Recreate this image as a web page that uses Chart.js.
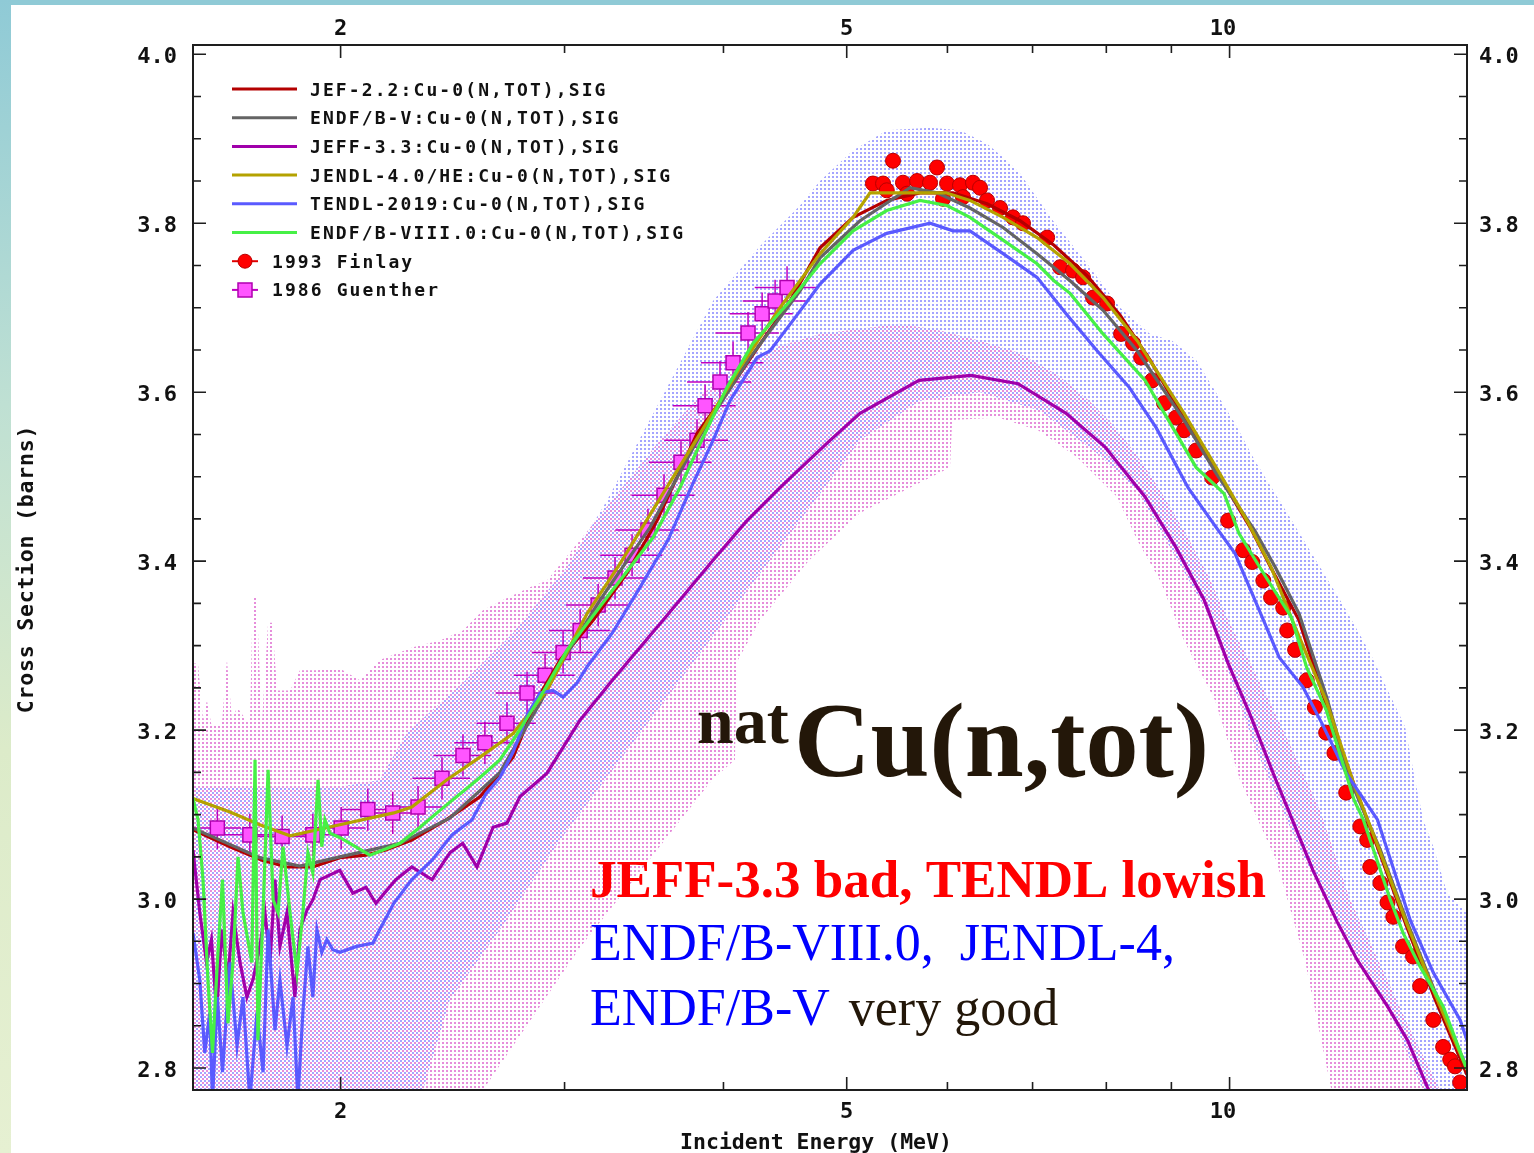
<!DOCTYPE html>
<html lang="en">
<head>
<meta charset="utf-8">
<title>natCu(n,tot)</title>
<script src="https://cdn.jsdelivr.net/npm/chart.js@4/dist/chart.umd.min.js"></script>
<style>
  html, body { margin: 0; padding: 0; }
  body { width: 1534px; height: 1153px; position: relative; overflow: hidden; background: #fff; }
  .edge-top { position: absolute; left: 0; top: 0; width: 1534px; height: 5px; background: #8fcad6; }
  .edge-left { position: absolute; left: 0; top: 0; width: 11px; height: 1153px;
    background: linear-gradient(to bottom, #8fcad6 0%, #bfe0d3 35%, #dcebc9 65%, #e6f0d2 100%); }
  #chartBox { position: absolute; left: 0; top: 0; width: 1534px; height: 1153px; }
</style>
</head>
<body>
<div class="edge-top"></div>
<div class="edge-left"></div>
<div id="chartBox"><canvas id="xsChart" width="1534" height="1153"></canvas></div>
<script>
// axis limits: incident energy (MeV, log) and cross section (barns)
const energyRange = [1.531, 15.37];
const sigmaRange = [2.774, 4.011];

const energyMajorTicks = [2, 5, 10];
const energyMinorTicks = [3, 4, 6, 7, 8, 9];
const sigmaMajorTicks = [2.8, 3.0, 3.2, 3.4, 3.6, 3.8, 4.0];
const sigmaMinorTicks = [2.85, 2.9, 2.95, 3.05, 3.1, 3.15, 3.25, 3.3, 3.35, 3.45, 3.5, 3.55,
  3.65, 3.7, 3.75, 3.85, 3.9, 3.95];

// evaluated libraries, [E (MeV), sigma (b)]
const jef22 = [[1.531,3.082],[1.637,3.062],[1.735,3.046],[1.815,3.038],[1.902,3.038],[1.997,3.049],
  [2.094,3.052],[2.170,3.058],[2.275,3.070],[2.423,3.094],[2.574,3.121],[2.669,3.149],[2.733,3.168],
  [2.851,3.235],[2.976,3.283],[3.159,3.330],[3.360,3.386],[3.547,3.448],[3.813,3.551],[4.070,3.610],
  [4.329,3.669],[4.512,3.708],[4.764,3.771],[5.058,3.807],[5.376,3.827],[5.709,3.836],[6.061,3.836],
  [6.446,3.823],[6.843,3.803],[7.277,3.774],[7.726,3.738],[8.202,3.691],[8.660,3.638],[9.209,3.569],
  [9.760,3.507],[10.38,3.440],[10.78,3.392],[11.34,3.330],[11.91,3.230],[12.53,3.135],[13.14,3.052],
  [13.79,2.966],[14.51,2.881],[15.37,2.792]];

const endfb5 = [[1.531,3.084],[1.728,3.049],[1.858,3.039],[1.997,3.050],[2.227,3.066],[2.438,3.096],
  [2.669,3.150],[2.870,3.232],[2.976,3.277],[3.199,3.354],[3.502,3.440],[3.834,3.549],[4.197,3.641],
  [4.595,3.720],[4.764,3.759],[5.122,3.803],[5.607,3.842],[5.888,3.836],[6.250,3.818],[6.636,3.795],
  [7.057,3.764],[7.492,3.732],[7.953,3.697],[8.459,3.649],[9.209,3.567],[9.760,3.504],[10.47,3.436],
  [10.86,3.393],[11.34,3.338],[11.91,3.241],[12.44,3.141],[13.14,3.058],[13.79,2.973],[14.64,2.875],
  [15.37,2.800]];

const jeff33 = [[1.531,3.058],[1.550,2.984],[1.569,2.925],[1.583,2.952],[1.598,2.866],[1.613,2.964],
  [1.631,2.905],[1.646,2.984],[1.667,2.925],[1.688,2.884],[1.707,2.905],[1.728,2.944],[1.744,2.984],
  [1.760,2.925],[1.776,3.023],[1.792,2.944],[1.815,2.984],[1.841,2.884],[1.858,2.964],[1.882,2.987],
  [1.902,2.999],[1.927,3.023],[1.997,3.034],[2.045,3.007],[2.094,3.014],[2.132,2.995],[2.210,3.023],
  [2.275,3.038],[2.360,3.023],[2.438,3.055],[2.495,3.066],[2.560,3.038],[2.636,3.085],[2.703,3.090],
  [2.767,3.121],[2.906,3.149],[3.086,3.212],[3.271,3.259],[3.585,3.330],[3.925,3.401],[4.174,3.448],
  [4.431,3.487],[4.851,3.543],[5.122,3.575],[5.699,3.614],[6.262,3.620],[6.818,3.610],[7.438,3.575],
  [7.982,3.535],[8.582,3.476],[9.077,3.416],[9.550,3.354],[9.974,3.279],[10.40,3.215],[10.86,3.143],
  [11.16,3.100],[11.63,3.034],[12.15,2.973],[12.60,2.928],[13.31,2.873],[13.80,2.833],[14.30,2.778],
  [14.64,2.745]];

const jendl4 = [[1.531,3.119],[1.637,3.103],[1.728,3.088],[1.825,3.075],[1.997,3.088],[2.202,3.102],
  [2.275,3.109],[2.423,3.141],[2.574,3.168],[2.733,3.196],[2.906,3.247],[3.125,3.338],[3.317,3.397],
  [3.585,3.480],[3.834,3.551],[4.122,3.629],[4.431,3.700],[4.764,3.764],[5.058,3.807],[5.215,3.836],
  [5.984,3.836],[6.250,3.827],[6.636,3.807],[7.057,3.783],[7.492,3.752],[7.953,3.712],[8.459,3.661],
  [9.209,3.575],[9.760,3.511],[10.32,3.448],[10.78,3.393],[11.26,3.322],[11.91,3.235],[12.53,3.135],
  [13.14,3.055],[13.79,2.970],[14.51,2.887],[15.37,2.798]];

const tendl2019 = [[1.531,2.960],[1.550,2.904],[1.564,2.818],[1.578,2.865],[1.586,2.762],[1.600,2.884],
  [1.615,2.795],[1.637,2.925],[1.658,2.826],[1.676,2.884],[1.697,2.762],[1.719,2.866],[1.738,2.795],
  [1.754,2.964],[1.776,2.845],[1.792,2.904],[1.815,2.826],[1.835,2.884],[1.851,2.762],[1.868,2.866],
  [1.885,2.944],[1.902,2.884],[1.916,2.964],[1.933,2.937],[1.951,2.952],[1.972,2.940],[1.997,2.937],
  [2.059,2.944],[2.121,2.948],[2.147,2.964],[2.202,2.995],[2.275,3.023],[2.360,3.046],[2.447,3.076],
  [2.537,3.094],[2.603,3.125],[2.669,3.144],[2.733,3.174],[2.804,3.218],[2.870,3.244],[2.938,3.247],
  [2.992,3.239],[3.069,3.256],[3.125,3.275],[3.271,3.315],[3.439,3.369],[3.618,3.425],[3.772,3.487],
  [3.925,3.543],[4.048,3.590],[4.251,3.641],[4.352,3.649],[4.537,3.685],[4.764,3.728],[5.058,3.768],
  [5.376,3.788],[5.814,3.800],[6.061,3.791],[6.250,3.791],[6.636,3.764],[7.057,3.736],[7.438,3.693],
  [7.867,3.649],[8.337,3.606],[8.755,3.558],[9.276,3.487],[9.760,3.440],[10.10,3.409],[10.47,3.354],
  [10.94,3.286],[11.42,3.251],[11.82,3.208],[12.35,3.149],[13.07,3.094],[13.87,2.975],[14.46,2.913],
  [15.18,2.857],[15.37,2.833]];

const endfb8 = [[1.531,3.119],[1.545,3.094],[1.559,3.023],[1.573,2.904],[1.586,2.818],[1.600,2.925],
  [1.615,3.023],[1.631,2.853],[1.646,2.925],[1.661,3.050],[1.676,2.984],[1.703,2.925],[1.713,3.165],
  [1.722,2.833],[1.738,2.984],[1.754,3.153],[1.770,2.999],[1.786,2.984],[1.802,3.062],[1.825,2.984],
  [1.848,2.913],[1.868,2.984],[1.885,3.055],[1.902,3.031],[1.920,3.141],[1.933,3.062],[1.944,3.094],
  [1.962,3.078],[1.997,3.073],[2.109,3.052],[2.227,3.066],[2.309,3.085],[2.394,3.105],[2.574,3.144],
  [2.669,3.165],[2.733,3.188],[2.818,3.220],[2.870,3.239],[3.014,3.295],[3.258,3.362],[3.521,3.428],
  [3.697,3.487],[3.834,3.539],[4.026,3.606],[4.220,3.658],[4.512,3.708],[4.764,3.752],[5.058,3.791],
  [5.376,3.815],[5.709,3.827],[5.995,3.821],[6.250,3.807],[6.636,3.780],[7.057,3.752],[7.277,3.732],
  [7.492,3.717],[7.953,3.669],[8.582,3.614],[9.412,3.511],[9.902,3.480],[10.17,3.433],[10.63,3.386],
  [11.18,3.334],[11.50,3.274],[11.91,3.224],[12.53,3.117],[12.74,3.094],[13.38,2.999],[13.69,2.960],
  [14.12,2.920],[14.72,2.873],[15.37,2.798]];

// uncertainty bands (upper / lower edges)
const tendlBandHigh = [[1.531,3.133],[1.997,3.133],[2.147,3.141],[2.255,3.197],[2.496,3.256],[2.733,3.315],
  [3.014,3.393],[3.240,3.472],[3.566,3.590],[3.925,3.708],[4.274,3.773],[4.595,3.821],[4.764,3.850],
  [5.057,3.886],[5.379,3.910],[5.814,3.913],[6.138,3.910],[6.446,3.894],[6.685,3.874],[6.843,3.859],
  [7.264,3.803],[7.727,3.752],[8.202,3.700],[8.660,3.669],[9.011,3.661],[9.412,3.638],[10.10,3.563],
  [10.47,3.519],[11.10,3.457],[11.65,3.405],[12.35,3.342],[12.90,3.291],[13.74,3.204],[13.99,3.141],
  [14.20,3.094],[14.46,3.062],[14.83,3.007],[15.37,2.984]];
const tendlBandLow = [[1.531,2.762],[2.309,2.762],[2.438,2.881],[2.669,2.964],[2.976,3.070],[3.317,3.165],
  [3.697,3.259],[4.122,3.354],[4.595,3.448],[5.122,3.543],[5.709,3.590],[6.365,3.600],[7.096,3.578],
  [7.910,3.525],[8.459,3.484],[9.619,3.338],[10.47,3.180],[11.36,3.058],[12.15,2.975],[13.31,2.873],
  [14.30,2.762],[15.37,2.762]];

const jeffBandHigh = [[1.531,3.279],[1.545,3.279],[1.559,3.212],[1.570,3.235],[1.583,3.206],[1.613,3.206],
  [1.628,3.283],[1.643,3.212],[1.658,3.227],[1.697,3.206],[1.706,3.357],[1.718,3.357],[1.734,3.206],
  [1.754,3.327],[1.767,3.327],[1.783,3.247],[1.825,3.247],[1.858,3.271],[1.916,3.271],[1.997,3.273],
  [2.071,3.259],[2.147,3.283],[2.280,3.298],[2.394,3.306],[2.496,3.318],[2.588,3.342],[2.683,3.354],
  [2.818,3.369],[2.906,3.377],[3.086,3.425],[3.317,3.484],[3.566,3.543],[3.834,3.596],[4.122,3.632],
  [4.431,3.655],[4.764,3.669],[5.122,3.675],[5.506,3.681],[5.920,3.673],[6.365,3.661],[6.818,3.647],
  [7.330,3.620],[7.754,3.590],[8.099,3.561],[8.459,3.525],[8.818,3.484],[9.209,3.436],[9.619,3.383],
  [9.974,3.330],[10.40,3.277],[10.78,3.230],[11.16,3.182],[11.78,3.105],[12.44,2.999],[13.14,2.922],
  [13.87,2.845],[14.64,2.774],[15.37,2.762]];
const jeffBandLow = [[1.531,2.762],[2.556,2.762],[3.086,2.943],[3.483,3.043],[3.918,3.141],[4.084,3.165],
  [4.099,3.281],[4.274,3.330],[4.671,3.401],[5.122,3.457],[6.028,3.511],[6.052,3.567],[6.576,3.570],
  [7.070,3.555],[7.588,3.523],[8.158,3.476],[8.459,3.425],[8.818,3.377],[9.209,3.306],[9.741,3.235],
  [10.19,3.141],[10.88,3.046],[11.46,2.928],[12.07,2.762],[15.37,2.762]];

// measurements
const finlay1993 = [[5.243,3.847],[5.340,3.847],[5.376,3.839],[5.437,3.874],[5.536,3.848],[5.577,3.835],
  [5.679,3.850],[5.814,3.848],[5.888,3.866],[5.952,3.829],[5.996,3.847],[6.138,3.845],[6.171,3.831],
  [6.284,3.848],[6.365,3.842],[6.446,3.827],[6.600,3.818],[6.756,3.807],[6.880,3.800],[7.187,3.783],
  [7.357,3.748],[7.532,3.744],[7.670,3.736],[7.810,3.712],[8.011,3.705],[8.217,3.669],[8.397,3.658],
  [8.520,3.641],[8.691,3.614],[8.882,3.587],[9.077,3.570],[9.210,3.555],[9.412,3.531],[9.689,3.499],
  [9.974,3.448],[10.25,3.413],[10.42,3.399],[10.63,3.377],[10.78,3.357],[11.02,3.345],[11.10,3.318],
  [11.26,3.295],[11.50,3.259],[11.67,3.227],[11.91,3.197],[12.09,3.173],[12.35,3.126],[12.67,3.086],
  [12.83,3.070],[12.90,3.038],[13.14,3.019],[13.31,2.996],[13.45,2.979],[13.69,2.944],[13.94,2.932],
  [14.12,2.897],[14.46,2.857],[14.72,2.825],[14.91,2.810],[15.04,2.802],[15.18,2.783]];

const guenther1986 = [[1.600,3.084],[1.697,3.076],[1.799,3.074],[1.902,3.076],[2.002,3.084],[2.101,3.106],
  [2.198,3.102],[2.301,3.109],[2.403,3.143],[2.496,3.170],[2.597,3.185],[2.703,3.208],[2.803,3.244],
  [2.896,3.265],[2.992,3.292],[3.086,3.318],[3.188,3.348],[3.287,3.380],[3.390,3.407],[3.489,3.437],
  [3.592,3.478],[3.704,3.517],[3.813,3.543],[3.869,3.584],[3.975,3.612],[4.070,3.635],[4.182,3.670],
  [4.290,3.693],[4.392,3.708],[4.488,3.724]];
const guentherEnergyErr = [0.07,0.075,0.08,0.085,0.09,0.10,0.105,0.115,0.125,0.13,0.14,0.145,0.155,0.16,
  0.165,0.17,0.18,0.185,0.19,0.20,0.205,0.21,0.22,0.22,0.23,0.23,0.24,0.245,0.25,0.255];
const guentherSigmaErr = [0.025,0.025,0.025,0.025,0.025,0.025,0.025,0.025,0.025,0.025,0.025,0.025,0.025,
  0.025,0.025,0.025,0.025,0.025,0.025,0.025,0.025,0.025,0.025,0.025,0.025,0.025,0.025,0.025,0.025,0.025];

const monoFamily = '"DejaVu Sans Mono", "Liberation Mono", monospace';
const serifFamily = '"Liberation Serif", "DejaVu Serif", serif';
const axisTickFont = { family: monoFamily, size: 22, weight: 'bold' };

const canvas = document.getElementById('xsChart');
const ctx0 = canvas.getContext('2d');

// stippled fill used for the uncertainty bands
function dotFill(color, dx, dy) {
  const tile = document.createElement('canvas');
  tile.width = 4; tile.height = 4;
  const g = tile.getContext('2d');
  g.fillStyle = color;
  g.fillRect(dx, dy, 2, 2);
  return ctx0.createPattern(tile, 'repeat');
}
const tendlDots = dotFill('rgba(105,105,255,0.6)', 0, 0);
const jeffDots = dotFill('rgba(210,50,190,0.55)', 2, 2);

const toPoints = pairs => pairs.map(([x, y]) => ({ x, y }));

function curve(label, color, pairs, order, legendRow) {
  return { label, data: toPoints(pairs), borderColor: color, backgroundColor: color,
    borderWidth: 3.2, pointRadius: 0, tension: 0, fill: false, order, legendRow };
}
function bandEdge(label, pairs, fill, order) {
  return { label, data: toPoints(pairs), borderColor: 'rgba(0,0,0,0)', borderWidth: 0,
    pointRadius: 0, tension: 0, fill: fill ? { target: '+1', above: fill, below: fill } : false, order };
}

const datasets = [
  curve('JEF-2.2:Cu-0(N,TOT),SIG', '#b40000', jef22, 6, 0),
  curve('ENDF/B-V:Cu-0(N,TOT),SIG', '#646464', endfb5, 5, 1),
  curve('JEFF-3.3:Cu-0(N,TOT),SIG', '#a000aa', jeff33, 4, 2),
  curve('JENDL-4.0/HE:Cu-0(N,TOT),SIG', '#b4a200', jendl4, 3, 3),
  curve('TENDL-2019:Cu-0(N,TOT),SIG', '#5a5aff', tendl2019, 2, 4),
  curve('ENDF/B-VIII.0:Cu-0(N,TOT),SIG', '#46f046', endfb8, 1, 5),
  { label: '1993 Finlay', data: toPoints(finlay1993), showLine: false, pointStyle: 'circle',
    pointRadius: 7.5, pointBackgroundColor: '#ff0000', pointBorderColor: '#b80000', pointBorderWidth: 1,
    borderColor: '#e00000', order: 9, legendRow: 6 },
  { label: '1986 Guenther', data: toPoints(guenther1986), showLine: false, pointStyle: 'rect',
    pointRadius: 9.9, pointBackgroundColor: '#ff55ff', pointBorderColor: '#b000b0', pointBorderWidth: 1.5,
    borderColor: '#c000c0', order: 10, legendRow: 7,
    errorBars: { dE: guentherEnergyErr, dS: guentherSigmaErr, color: '#c000c0' } },
  bandEdge('TENDL-2019 upper', tendlBandHigh, tendlDots, 20),
  bandEdge('TENDL-2019 lower', tendlBandLow, null, 21),
  bandEdge('JEFF-3.3 upper', jeffBandHigh, jeffDots, 22),
  bandEdge('JEFF-3.3 lower', jeffBandLow, null, 23)
];
datasets.forEach(d => { d.xAxisID = 'x'; d.yAxisID = 'y'; });

function energyAxis(position, padding, height) {
  return {
    type: 'logarithmic', position, min: energyRange[0], max: energyRange[1], bounds: 'data',
    grid: { display: false, drawTicks: false }, border: { display: false },
    afterBuildTicks: s => { s.ticks = energyMajorTicks.map(v => ({ value: v })); },
    afterFit: s => { s.height = height; },
    ticks: { autoSkip: false, maxRotation: 0, minRotation: 0, padding, color: '#111', font: axisTickFont,
      callback: v => (v === 10 ? '10 ' : String(v)) }
  };
}
function sigmaAxis(position, padding, width) {
  return {
    type: 'linear', position, min: sigmaRange[0], max: sigmaRange[1], bounds: 'data',
    grid: { display: false, drawTicks: false }, border: { display: false },
    afterBuildTicks: s => { s.ticks = sigmaMajorTicks.map(v => ({ value: v })); },
    afterFit: s => { s.width = width; },
    ticks: { autoSkip: false, padding, labelOffset: 3, color: '#111', font: axisTickFont,
      callback: v => Number(v).toFixed(1) }
  };
}

// frame with inward ticks, legend, axis titles and the notes
const plotDecor = {
  id: 'plotDecor',
  beforeDatasetDraw(chart, args) {
    const ds = chart.data.datasets[args.index];
    if (!ds.errorBars) return;
    const { ctx, chartArea: a } = chart;
    const x = chart.scales.x, y = chart.scales.y;
    ctx.save();
    ctx.beginPath();
    ctx.rect(a.left, a.top, a.right - a.left, a.bottom - a.top);
    ctx.clip();
    ctx.strokeStyle = ds.errorBars.color;
    ctx.lineWidth = 1.5;
    ctx.beginPath();
    ds.data.forEach((p, i) => {
      const px = x.getPixelForValue(p.x), py = y.getPixelForValue(p.y);
      const dE = ds.errorBars.dE[i], dS = ds.errorBars.dS[i];
      ctx.moveTo(x.getPixelForValue(p.x - dE), py);
      ctx.lineTo(x.getPixelForValue(p.x + dE), py);
      ctx.moveTo(px, y.getPixelForValue(p.y - dS));
      ctx.lineTo(px, y.getPixelForValue(p.y + dS));
    });
    ctx.stroke();
    ctx.restore();
  },
  afterDatasetsDraw(chart) {
    const { ctx, chartArea: a } = chart;
    const x = chart.scales.x, y = chart.scales.y;

    // ticks
    ctx.save();
    ctx.strokeStyle = '#1e1e1e';
    ctx.lineWidth = 1.6;
    ctx.beginPath();
    const tickX = (v, len) => {
      const p = x.getPixelForValue(v);
      ctx.moveTo(p, a.bottom); ctx.lineTo(p, a.bottom - len);
      ctx.moveTo(p, a.top); ctx.lineTo(p, a.top + len);
    };
    const tickY = (v, len) => {
      const p = y.getPixelForValue(v);
      ctx.moveTo(a.left, p); ctx.lineTo(a.left + len, p);
      ctx.moveTo(a.right, p); ctx.lineTo(a.right - len, p);
    };
    energyMajorTicks.forEach(v => tickX(v, 13));
    energyMinorTicks.forEach(v => tickX(v, 8));
    sigmaMajorTicks.forEach(v => tickY(v, 13));
    sigmaMinorTicks.forEach(v => tickY(v, 8));
    ctx.stroke();
    ctx.lineWidth = 2;
    ctx.strokeRect(a.left, a.top, a.right - a.left, a.bottom - a.top);
    ctx.restore();

    // legend
    const rowTop = 89, rowStep = 28.7;
    ctx.save();
    ctx.font = 'bold 18px ' + monoFamily;
    if ('letterSpacing' in ctx) ctx.letterSpacing = '2.1px';
    ctx.textBaseline = 'alphabetic';
    chart.data.datasets.forEach(ds => {
      if (ds.legendRow === undefined) return;
      const ry = rowTop + ds.legendRow * rowStep;
      ctx.lineWidth = 3;
      ctx.strokeStyle = ds.borderColor;
      ctx.beginPath();
      if (ds.showLine === false) {
        ctx.lineWidth = 2;
        ctx.moveTo(232, ry); ctx.lineTo(258, ry);
        ctx.stroke();
        ctx.fillStyle = ds.pointBackgroundColor;
        ctx.strokeStyle = ds.pointBorderColor;
        ctx.lineWidth = ds.pointBorderWidth;
        ctx.beginPath();
        if (ds.pointStyle === 'circle') ctx.arc(245, ry, 7, 0, Math.PI * 2);
        else ctx.rect(238, ry - 7, 14, 14);
        ctx.fill();
        ctx.stroke();
        ctx.fillStyle = '#111';
        ctx.fillText(ds.label, 272, ry + 6.5);
      } else {
        ctx.moveTo(232, ry); ctx.lineTo(297, ry);
        ctx.stroke();
        ctx.fillStyle = '#111';
        ctx.fillText(ds.label, 310, ry + 6.5);
      }
    });
    ctx.restore();

    // notes
    ctx.save();
    ctx.textBaseline = 'alphabetic';
    ctx.fillStyle = '#231709';
    ctx.font = 'bold 66px ' + serifFamily;
    ctx.fillText('nat', 697, 743);
    ctx.font = 'bold 106px ' + serifFamily;
    ctx.fillText('Cu(n,tot)', 794, 776);
    ctx.fillStyle = '#ff0000';
    ctx.font = 'bold 53px ' + serifFamily;
    ctx.fillText('JEFF-3.3 bad, TENDL lowish', 590, 897);
    ctx.fillStyle = '#0000ff';
    ctx.font = '52px ' + serifFamily;
    ctx.fillText('ENDF/B-VIII.0,  JENDL-4,', 590, 960);
    ctx.fillText('ENDF/B-V', 590, 1025);
    const w = ctx.measureText('ENDF/B-V').width;
    ctx.fillStyle = '#231709';
    ctx.fillText('very good', 590 + w + 19, 1025);
    ctx.restore();
  },
  afterDraw(chart) {
    const { ctx } = chart;
    ctx.save();
    ctx.fillStyle = '#111';
    ctx.textAlign = 'center';
    ctx.textBaseline = 'alphabetic';
    ctx.font = 'bold 21.5px ' + monoFamily;
    ctx.fillText('Incident Energy (MeV)', 816, 1149);
    ctx.translate(33, 569);
    ctx.rotate(-Math.PI / 2);
    if ('letterSpacing' in ctx) ctx.letterSpacing = '0.8px';
    ctx.fillText('Cross Section (barns)', 0, 0);
    ctx.restore();
  }
};

new Chart(canvas, {
  type: 'line',
  data: { datasets },
  options: {
    responsive: false,
    devicePixelRatio: 1,
    animation: false,
    events: [],
    layout: { padding: 0 },
    plugins: { legend: { display: false }, tooltip: { enabled: false } },
    scales: {
      x: energyAxis('bottom', 9, 63),
      x2: energyAxis('top', 3, 45),
      y: sigmaAxis('left', 16, 193),
      y2: sigmaAxis('right', 12, 67)
    }
  },
  plugins: [plotDecor]
});
</script>
</body>
</html>
